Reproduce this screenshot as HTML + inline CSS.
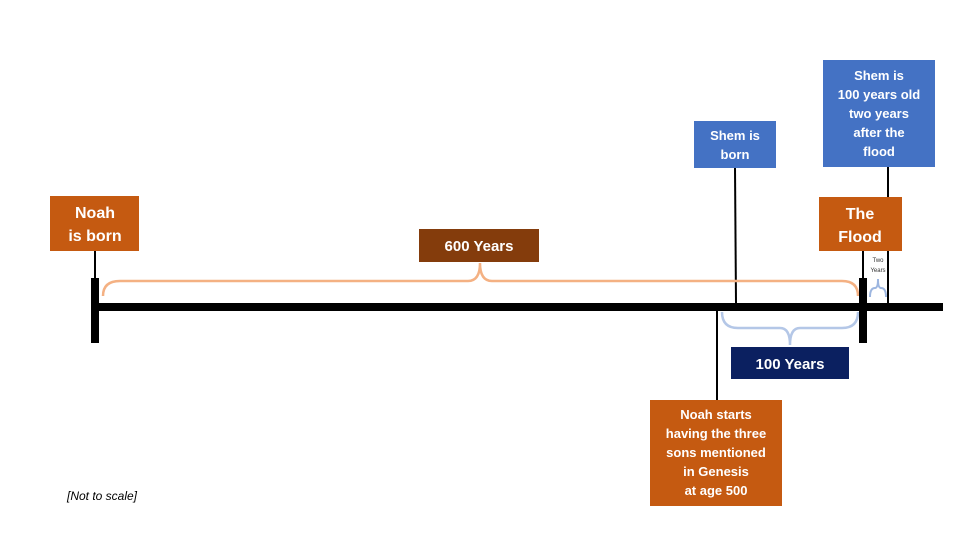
<!DOCTYPE html>
<html><head><meta charset="utf-8"><style>
html,body{margin:0;padding:0;background:#fff;width:960px;height:540px;overflow:hidden}
svg text{font-family:"Liberation Sans",sans-serif;font-weight:bold;fill:#fff;text-anchor:middle}
</style></head><body>
<svg width="960" height="540" viewBox="0 0 960 540" xmlns="http://www.w3.org/2000/svg">
<!-- connectors -->
<g stroke="#000" stroke-width="2" fill="none">
<line x1="95" y1="251" x2="95" y2="278"/>
<line x1="735" y1="168" x2="736" y2="303"/>
<line x1="888" y1="167" x2="888" y2="198"/>
<line x1="888" y1="251" x2="888" y2="303"/>
<line x1="863" y1="251" x2="863" y2="278"/>
<line x1="717" y1="310" x2="717" y2="400"/>
</g>
<!-- braces -->
<path d="M103 296 Q103 281 120 281 L468 281 Q480 281 480 263 Q480 281 492 281 L842 281 Q858 281 858 296" stroke="#f4b183" stroke-width="2.5" fill="none"/>
<path d="M722 312 Q722 328 738 328 L780 328 Q790 328 790 345 Q790 328 800 328 L842 328 Q858 328 858 312" stroke="#b4c7e7" stroke-width="2.5" fill="none"/>
<path d="M870 297 Q870 288 875 288 Q878 288 878 279 Q878 288 881 288 Q886 288 886 297" stroke="#9db6e0" stroke-width="2" fill="none"/>
<!-- main line -->
<rect x="95" y="303" width="848" height="8" fill="#000"/>
<rect x="91" y="278" width="8" height="65" fill="#000"/>
<rect x="859" y="278" width="8" height="65" fill="#000"/>
<!-- boxes -->
<rect x="50" y="196" width="89" height="55" fill="#c55a11"/>
<text x="95" y="218" font-size="16">Noah</text>
<text x="95" y="241" font-size="16">is born</text>
<rect x="419" y="229" width="120" height="33" fill="#843c0c"/>
<text x="479" y="251" font-size="15">600 Years</text>
<rect x="694" y="121" width="82" height="47" fill="#4472c4"/>
<text x="735" y="140" font-size="13">Shem is</text>
<text x="735" y="159" font-size="13">born</text>
<rect x="823" y="60" width="112" height="107" fill="#4472c4"/>
<text x="879" y="80" font-size="13">Shem is</text>
<text x="879" y="99" font-size="13">100 years old</text>
<text x="879" y="118" font-size="13">two years</text>
<text x="879" y="137" font-size="13">after the</text>
<text x="879" y="156" font-size="13">flood</text>
<rect x="819" y="197" width="83" height="54" fill="#c55a11"/>
<text x="860" y="219" font-size="16">The</text>
<text x="860" y="242" font-size="16">Flood</text>
<text x="878" y="262" font-size="6" style="fill:#333;font-weight:normal">Two</text>
<text x="878" y="272" font-size="6" style="fill:#333;font-weight:normal">Years</text>
<rect x="731" y="347" width="118" height="32" fill="#0b2060"/>
<text x="790" y="369" font-size="15">100 Years</text>
<rect x="650" y="400" width="132" height="106" fill="#c55a11"/>
<text x="716" y="419" font-size="13">Noah starts</text>
<text x="716" y="438" font-size="13">having the three</text>
<text x="716" y="457" font-size="13">sons mentioned</text>
<text x="716" y="476" font-size="13">in Genesis</text>
<text x="716" y="495" font-size="13">at age 500</text>
<text x="102" y="500" font-size="12" style="fill:#000;font-weight:normal;font-style:italic">[Not to scale]</text>
</svg>
</body></html>
